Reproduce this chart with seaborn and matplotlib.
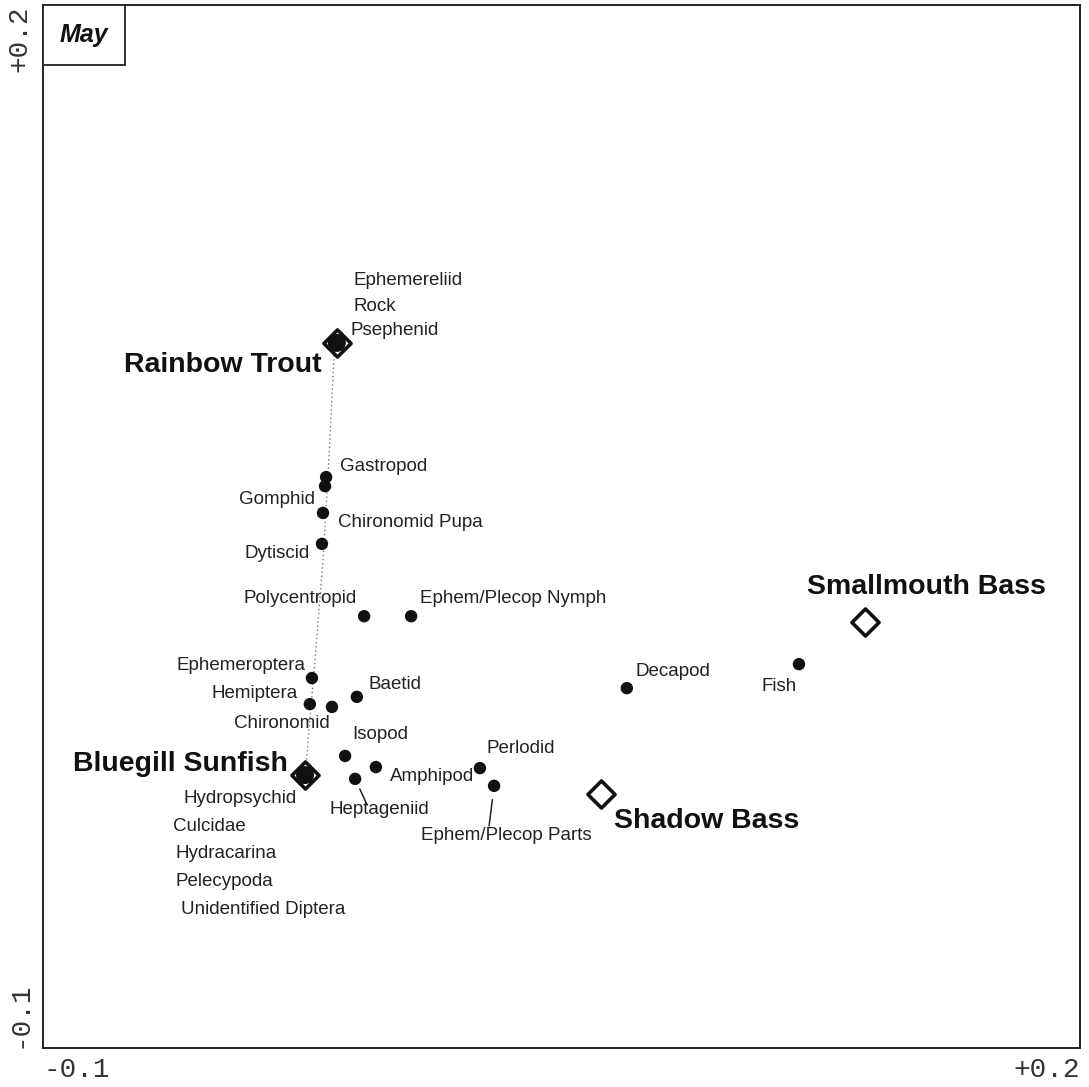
"""
May diet ordination plot: fish species vs. prey items
"""

import numpy as np
import pandas as pd
import matplotlib
matplotlib.use('Agg')
import matplotlib.pyplot as plt
from matplotlib.patches import Rectangle
import seaborn as sns

sns.set_style('white')
plt.rcParams['font.family'] = ['Liberation Sans', 'DejaVu Sans']

# fish scores
fish_names = ['Rainbow Trout', 'Bluegill Sunfish', 'Smallmouth Bass', 'Shadow Bass']
fish_x = [-0.0150, -0.0242, 0.1378, 0.0614]
fish_y = [0.1028, -0.0215, 0.0225, -0.0270]
fish_overlap = [True, True, False, False]

# prey item scores
prey_names = ['Ephemereliid', 'Rock', 'Psephenid',
              'Gastropod', 'Gomphid', 'Chironomid Pupa', 'Dytiscid',
              'Polycentropid', 'Ephem/Plecop Nymph', 'Ephemeroptera',
              'Hemiptera', 'Chironomid', 'Baetid', 'Isopod', 'Amphipod',
              'Heptageniid', 'Perlodid', 'Ephem/Plecop Parts', 'Decapod', 'Fish',
              'Hydropsychid', 'Culcidae', 'Hydracarina', 'Pelecypoda',
              'Unidentified Diptera']
prey_x = [-0.0150, -0.0150, -0.0150,
          -0.0181, -0.0184, -0.0190, -0.0193,
          -0.0071, 0.0065, -0.0222,
          -0.0228, -0.0164, -0.0092, -0.0126, -0.0037,
          -0.0097, 0.0264, 0.0305, 0.0689, 0.1187,
          -0.0242, -0.0242, -0.0242, -0.0242, -0.0242]
prey_y = [0.1028, 0.1028, 0.1028,
          0.0642, 0.0616, 0.0539, 0.0450,
          0.0242, 0.0242, 0.0064,
          -0.0011, -0.0019, 0.0010, -0.0160, -0.0192,
          -0.0226, -0.0195, -0.0246, 0.0035, 0.0104,
          -0.0215, -0.0215, -0.0215, -0.0215, -0.0215]

# dotted trajectory between trout and bluegill
path_x = [-0.0158, -0.0173, -0.0190, -0.0213, -0.0228, -0.0239]
path_y = [0.0993, 0.0691, 0.0404, 0.0116, -0.0057, -0.0186]

# label placement (offset pixels, alignment)
prey_labels = {
    'Ephemereliid': (17, 62, 'left'),
    'Rock': (17, 36, 'left'),
    'Psephenid': (14, 12, 'left'),
    'Gastropod': (14, 11, 'left'),
    'Gomphid': (-10, -13, 'right'),
    'Chironomid Pupa': (15, -10, 'left'),
    'Dytiscid': (-12, -10, 'right'),
    'Polycentropid': (-7, 18, 'right'),
    'Ephem/Plecop Nymph': (9, 18, 'left'),
    'Ephemeroptera': (-6, 13, 'right'),
    'Hemiptera': (-12, 11, 'right'),
    'Chironomid': (-2, -17, 'right'),
    'Baetid': (12, 12, 'left'),
    'Isopod': (7, 21, 'left'),
    'Amphipod': (14, -9, 'left'),
    'Heptageniid': (24, -31, 'center'),
    'Perlodid': (7, 20, 'left'),
    'Ephem/Plecop Parts': (12, -50, 'center'),
    'Decapod': (9, 17, 'left'),
    'Fish': (-2, -22, 'right'),
    'Hydropsychid': (-8, -23, 'right'),
    'Culcidae': (-132, -51, 'left'),
    'Hydracarina': (-130, -78, 'left'),
    'Pelecypoda': (-130, -106, 'left'),
    'Unidentified Diptera': (-124, -134, 'left'),
}
# leader lines: end point offset (pixels) and gap at the dot (points)
leader_lines = {
    'Heptageniid': (12, -26, 8),
    'Ephem/Plecop Parts': (-5, -40, 10),
}

fish_labels = {
    'Rainbow Trout': (-15, -22, 'right'),
    'Bluegill Sunfish': (-17, 11, 'right'),
    'Smallmouth Bass': (61, 35, 'center'),
    'Shadow Bass': (13, -27, 'left'),
}

fish_df = pd.DataFrame({'name': fish_names, 'x': fish_x, 'y': fish_y,
                        'overlap': fish_overlap})
prey_df = pd.DataFrame({'name': prey_names, 'x': prey_x, 'y': prey_y})

fig = plt.figure(figsize=(10.89, 10.87), dpi=100)
ax = fig.add_axes([0.0395, 0.0359, 0.9522, 0.9595])

sns.lineplot(x=path_x, y=path_y, sort=False, estimator=None, ax=ax,
             color='#777777', linestyle=(0, (1, 2)), linewidth=1, zorder=2)

sns.scatterplot(data=prey_df, x='x', y='y', ax=ax, s=80, color='#111111',
                edgecolor='none', zorder=3)

sns.scatterplot(data=fish_df, x='x', y='y', ax=ax, marker='D', s=190,
                facecolor='white', edgecolor='#111111', linewidth=2.6, zorder=4)
sns.scatterplot(data=fish_df[fish_df['overlap']], x='x', y='y', ax=ax,
                s=168, color='#111111', edgecolor='none', zorder=5)

for name, x, y in zip(prey_names, prey_x, prey_y):
    dx, dy, ha = prey_labels[name]
    ax.annotate(name, (x, y), xytext=(dx, dy), textcoords='offset pixels',
                ha=ha, va='center', fontsize=13.5, color='#222222', zorder=6)
    if name in leader_lines:
        lx, ly, gap = leader_lines[name]
        ax.annotate('', (x, y), xytext=(lx, ly), textcoords='offset pixels',
                    arrowprops=dict(arrowstyle='-', color='#222222', lw=1.1,
                                    shrinkA=0, shrinkB=gap), zorder=6)

for name, x, y in zip(fish_names, fish_x, fish_y):
    dx, dy, ha = fish_labels[name]
    ax.annotate(name, (x, y), xytext=(dx, dy), textcoords='offset pixels',
                ha=ha, va='center', fontsize=20.5, fontweight='bold',
                color='#111111', zorder=6)

# "May" box in upper-left corner
ax.add_patch(Rectangle((0, 1 - 0.0575), 0.079, 0.0575, transform=ax.transAxes,
                       facecolor='white', edgecolor='#222222', lw=1.3, zorder=7))
ax.text(0.0395, 1 - 0.0575 / 2, 'May', transform=ax.transAxes, ha='center',
        va='center', fontsize=18, fontweight='bold', fontstyle='italic',
        color='#111111', zorder=8)

ax.set_xlim(-0.1, 0.2)
ax.set_ylim(-0.1, 0.2)
ax.set_xlabel('')
ax.set_ylabel('')

ax.set_xticks([-0.1, 0.0, 0.1, 0.2])
ax.set_xticklabels(['-0.1', '', '', '+0.2'])
ax.set_yticks([-0.1, 0.0, 0.1, 0.2])
ax.set_yticklabels(['-0.1', '', '', '+0.2'], rotation=90)
ax.tick_params(axis='both', direction='inout', length=7, width=1.2,
               color='#222222', labelcolor='#333333', labelsize=20)
ax.tick_params(axis='x', pad=3)
ax.tick_params(axis='y', pad=4)
for lab in ax.get_xticklabels() + ax.get_yticklabels():
    lab.set_fontfamily('Liberation Mono')
xl = ax.get_xticklabels()
xl[0].set_ha('left')
xl[-1].set_ha('right')
yl = ax.get_yticklabels()
yl[0].set_va('bottom')
yl[-1].set_va('top')

for spine in ax.spines.values():
    spine.set_visible(True)
    spine.set_color('#222222')
    spine.set_linewidth(1.4)

fig.savefig('out.png', dpi=100, facecolor='white')
